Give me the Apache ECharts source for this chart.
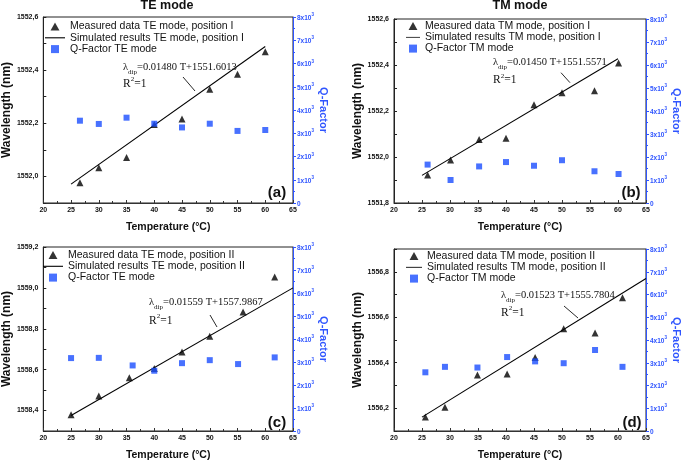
<!DOCTYPE html>
<html><head><meta charset="utf-8">
<script src="https://cdn.jsdelivr.net/npm/echarts@6/dist/echarts.min.js"></script>
<style>html,body{margin:0;padding:0;background:#fff}#c{width:685px;height:462px}</style>
</head><body><div id="c"></div>
<script>
// ---------- DATA ----------
// (a) TE mode, position I
const tMeasA = [26.6, 30, 35, 40, 45, 50, 55, 60];
const wMeasA = [1551.976, 1552.033, 1552.071, 1552.195, 1552.216, 1552.328, 1552.385, 1552.469];
const tFitA = [25, 60];
const wFitA = [1551.971, 1552.489];
const tQA = [26.6, 30, 35, 40, 45, 50, 55, 60];
const qA = [3540, 3400, 3670, 3410, 3250, 3410, 3100, 3140];
const wRangeA = [1551.9, 1552.6];
// (b) TM mode, position I
const tMeasB = [26, 30.1, 35.2, 40, 45, 50, 55.8, 60.1];
const wMeasB = [1551.922, 1551.987, 1552.076, 1552.082, 1552.227, 1552.279, 1552.288, 1552.409];
const tFitB = [25, 60];
const wFitB = [1551.920, 1552.427];
const tQB = [26, 30.1, 35.2, 40, 45, 50, 55.8, 60.1];
const qB = [1670, 1000, 1590, 1780, 1620, 1860, 1380, 1260];
const wRangeB = [1551.8, 1552.6];
// (c) TE mode, position II
const tMeasC = [25, 30, 35.5, 40, 45, 50, 56, 61.7];
const wMeasC = [1558.379, 1558.471, 1558.561, 1558.606, 1558.687, 1558.763, 1558.882, 1559.053];
const tFitC = [25, 65];
const wFitC = [1558.376, 1559.000];
const tQC = [25, 30, 36.1, 40, 45, 50, 55.1, 61.7];
const qC = [3170, 3180, 2850, 2620, 2950, 3080, 2910, 3200];
const wRangeC = [1558.3, 1559.2];
// (d) TM mode, position II
const tMeasD = [25.6, 29.1, 34.9, 40.2, 45.2, 50.3, 55.9, 60.8];
const wMeasD = [1556.161, 1556.204, 1556.346, 1556.351, 1556.423, 1556.549, 1556.531, 1556.686];
const tFitD = [25, 65];
const wFitD = [1556.161, 1556.770];
const tQD = [25.6, 29.1, 34.9, 40.2, 45.2, 50.3, 55.9, 60.8];
const qD = [2580, 2820, 2790, 3250, 3060, 2980, 3560, 2820];
const wRangeD = [1556.1, 1556.9];
// shared axes
const tempRange = [20, 65];
const qRange = [0, 8000];
// texts
const measNames = ['Measured data TE mode, position I', 'Measured data TM mode, position I', 'Measured data TE mode, position II', 'Measured data TM mode, position II'];
const fitNames = ['Simulated results TE mode, position I', 'Simulated results TM mode, position I', 'Simulated results TE mode, position II', 'Simulated results TM mode, position II'];
const qNames = ['Q-Factor TE mode', 'Q-Factor TM mode', 'Q-Factor TE mode', 'Q-Factor TM mode'];
const slopes = ['0.01480', '0.01450', '0.01559', '0.01523'];
const intercepts = ['1551.6013', '1551.5571', '1557.9867', '1555.7804'];
const panelTags = ['(a)', '(b)', '(c)', '(d)'];
const columnTitles = ['TE mode', 'TM mode'];

// ---------- LAYOUT ----------
const BLUE = '#2f55ff';
const SQ = '#1a4dff';
const FONT = 'Liberation Sans, Arial, sans-serif';
const SERIF = 'Liberation Serif, Times New Roman, serif';
const ICON_TRI = 'path://M5,0 L10,9 L0,9 Z';
const ICON_LINE = 'path://M0,0 L100,0 L100,5.5 L0,5.5 Z';
const ICON_SQ = 'path://M0,0 L10,0 L10,10 L0,10 Z';
const panels = [
  {grid:{left:40, top:17, width:253, height:186}, legend:{left:45, top:21, w:20}, yGap:26, qGap:22, ann:{x:123, y1:66.5, y2:83, ax1:183, ay1:77, ax2:195, ay2:91}, tag:{x:277, y:193}},
  {grid:{left:394, top:19, width:252, height:184}, legend:{left:406, top:20.5, w:14}, yGap:27, qGap:25, ann:{x:493, y1:61.7, y2:79.3, ax1:561, ay1:72.7, ax2:570, ay2:82.7}, tag:{x:631, y:193}},
  {grid:{left:40, top:247, width:253, height:186}, legend:{left:43, top:249.5, w:20}, yGap:26, qGap:22, ann:{x:149, y1:301.7, y2:320, ax1:210, ay1:315, ax2:217, ay2:327}, tag:{x:277, y:423}},
  {grid:{left:394, top:249, width:252, height:184}, legend:{left:406, top:250.5, w:16}, yGap:27, qGap:25, ann:{x:501, y1:295, y2:311.7, ax1:564, ay1:306, ax2:578, ay2:318}, tag:{x:632, y:423}}
];
const data = [
  {tm:tMeasA, wm:wMeasA, tf:tFitA, wf:wFitA, tq:tQA, q:qA, wr:wRangeA},
  {tm:tMeasB, wm:wMeasB, tf:tFitB, wf:wFitB, tq:tQB, q:qB, wr:wRangeB},
  {tm:tMeasC, wm:wMeasC, tf:tFitC, wf:wFitC, tq:tQC, q:qC, wr:wRangeC},
  {tm:tMeasD, wm:wMeasD, tf:tFitD, wf:wFitD, tq:tQD, q:qD, wr:wRangeD}
];
const zip = (a, b) => a.map((v, k) => [v, b[k]]);

const option = {
  animation: false,
  backgroundColor: '#fff',
  textStyle: {fontFamily: FONT},
  grid: [], xAxis: [], yAxis: [], series: [], legend: [], graphic: []
};

panels.forEach((p, i) => {
  const d = data[i];
  option.grid.push(Object.assign({show:true, borderColor:'#222', borderWidth:1, containLabel:false}, p.grid));
  option.xAxis.push({
    gridIndex:i, type:'value', min:tempRange[0], max:tempRange[1], interval:5,
    axisLine:{show:true, onZero:false, lineStyle:{color:'#333', width:1}},
    axisTick:{show:true, inside:true, length:3, lineStyle:{color:'#333'}},
    minorTick:{show:true, splitNumber:2, length:2, lineStyle:{color:'#333'}},
    splitLine:{show:false},
    axisLabel:{fontSize:7, fontWeight:'bold', color:'#111', margin:4, fontFamily:FONT},
    name:'Temperature (°C)', nameLocation:'middle', nameGap:19,
    nameTextStyle:{fontSize:10.5, fontWeight:'bold', color:'#111', fontFamily:FONT}
  });
  option.yAxis.push({
    gridIndex:i, type:'value', position:'left', min:d.wr[0], max:d.wr[1], interval:0.1,
    axisLine:{show:true, onZero:false, lineStyle:{color:'#222', width:1}},
    axisTick:{show:true, inside:true, length:3, lineStyle:{color:'#222'}},
    splitLine:{show:false},
    axisLabel:{fontSize:7, fontWeight:'bold', color:'#111', margin:5, fontFamily:FONT,
      formatter: v => (Math.round(v * 10) % 2 === 0) ? v.toFixed(1).replace('.', ',') : ''},
    name:'Wavelength (nm)', nameLocation:'middle', nameGap:p.yGap,
    nameTextStyle:{fontSize:12, fontWeight:'bold', color:'#111', fontFamily:FONT}
  });
  option.yAxis.push({
    gridIndex:i, type:'value', position:'right', min:qRange[0], max:qRange[1], interval:1000,
    axisLine:{show:true, onZero:false, lineStyle:{color:BLUE, width:1}},
    axisTick:{show:true, inside:false, length:3, lineStyle:{color:BLUE}},
    minorTick:{show:true, splitNumber:2, length:2, lineStyle:{color:BLUE}},
    splitLine:{show:false},
    axisLabel:{color:BLUE, margin:4, fontFamily:FONT,
      formatter: v => v === 0 ? '{b|0}' : '{b|' + (v / 1000) + 'x10}{s|3}',
      rich:{b:{fontSize:6.5, fontWeight:'bold', color:BLUE, fontFamily:FONT, lineHeight:9, verticalAlign:'bottom'},
            s:{fontSize:4.5, fontWeight:'bold', color:BLUE, fontFamily:FONT, lineHeight:9, verticalAlign:'top'}}},
    name:'Q-Factor', nameLocation:'middle', nameGap:p.qGap, nameRotate:-90,
    nameTextStyle:{fontSize:11, fontWeight:'bold', color:BLUE, fontFamily:FONT}
  });
  option.series.push({
    name:measNames[i], type:'scatter', xAxisIndex:i, yAxisIndex:2*i,
    symbol:'triangle', symbolSize:7, itemStyle:{color:'#000'}, z:3,
    data:zip(d.tm, d.wm)
  });
  option.series.push({
    name:fitNames[i], type:'line', xAxisIndex:i, yAxisIndex:2*i,
    symbol:'none', showSymbol:false, lineStyle:{color:'#000', width:1.1}, itemStyle:{color:'#000'}, z:2,
    data:zip(d.tf, d.wf)
  });
  option.series.push({
    name:qNames[i], type:'scatter', xAxisIndex:i, yAxisIndex:2*i+1,
    symbol:'rect', symbolSize:6, itemStyle:{color:SQ}, z:4,
    data:zip(d.tq, d.q)
  });
  option.legend.push({
    left:p.legend.left, top:p.legend.top, orient:'vertical', itemWidth:p.legend.w, itemHeight:8, itemGap:0.3,
    selectedMode:false, padding:0, symbolKeepAspect:true,
    textStyle:{fontSize:10.5, color:'#111', fontFamily:FONT},
    data:[{name:measNames[i], icon:ICON_TRI}, {name:fitNames[i], icon:ICON_LINE}, {name:qNames[i], icon:ICON_SQ}]
  });
  const a = p.ann;
  option.graphic.push({
    type:'text', left:a.x, top:a.y1 - 5, z:10,
    style:{text:'{m|λ}{s|dip}{m|=' + slopes[i] + ' T+' + intercepts[i] + '}',
      rich:{m:{fontSize:10.5, fontFamily:SERIF, fill:'#111', lineHeight:14, verticalAlign:'bottom'},
            s:{fontSize:7, fontFamily:SERIF, fill:'#111', lineHeight:14, verticalAlign:'bottom', padding:[0,0,-3,0]}}}
  });
  option.graphic.push({
    type:'text', left:a.x, top:a.y2 - 7, z:10,
    style:{text:'{m|R}{p|2}{m|=1}',
      rich:{m:{fontSize:11.5, fontFamily:SERIF, fill:'#111', lineHeight:14, verticalAlign:'bottom'},
            p:{fontSize:7, fontFamily:SERIF, fill:'#111', lineHeight:14, verticalAlign:'top'}}}
  });
  option.graphic.push({
    type:'line', z:10, shape:{x1:a.ax1, y1:a.ay1, x2:a.ax2, y2:a.ay2}, style:{stroke:'#111', lineWidth:0.9}
  });
  option.graphic.push({
    type:'text', z:10, x:p.tag.x, y:p.tag.y,
    style:{text:panelTags[i], fontSize:15, fontWeight:'bold', fontFamily:FONT, fill:'#111', align:'center', verticalAlign:'middle'}
  });
});
option.graphic.push({type:'text', x:167, y:6, style:{text:columnTitles[0], fontSize:12.5, fontWeight:'bold', fontFamily:FONT, fill:'#111', align:'center', verticalAlign:'middle'}});
option.graphic.push({type:'text', x:520, y:6, style:{text:columnTitles[1], fontSize:12.5, fontWeight:'bold', fontFamily:FONT, fill:'#111', align:'center', verticalAlign:'middle'}});

const chart = echarts.init(document.getElementById('c'), null, {renderer:'canvas'});
chart.setOption(option);
</script>
</body></html>
